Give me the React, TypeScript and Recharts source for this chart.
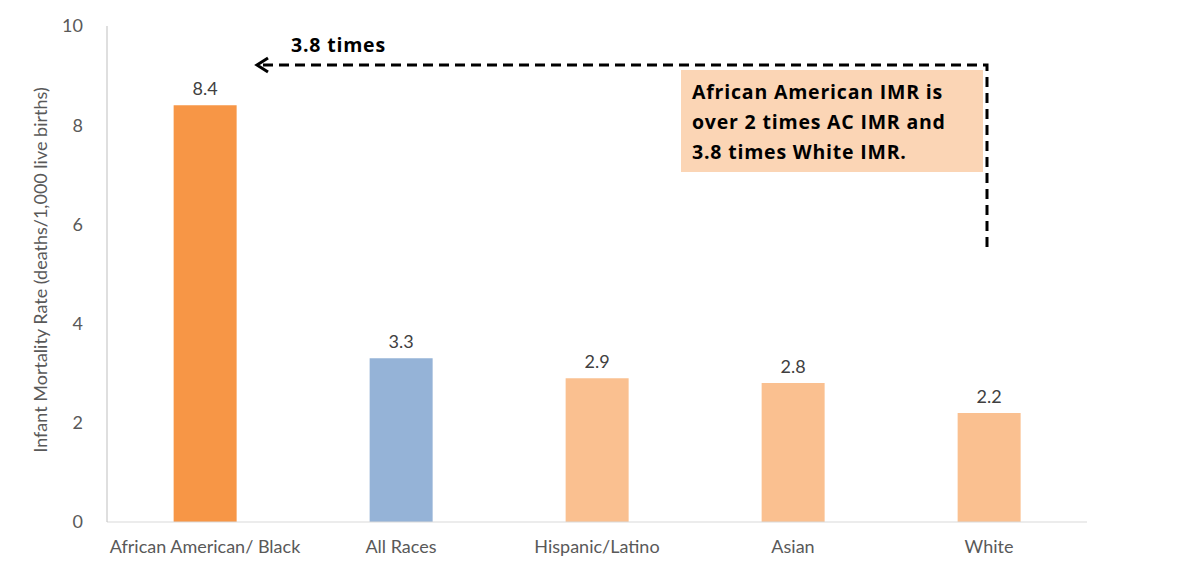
import { BarChart, Bar, XAxis, YAxis, Cell, LabelList } from 'recharts';

const categories = ['African American/ Black', 'All Races', 'Hispanic/Latino', 'Asian', 'White'];
const rates = [8.4, 3.3, 2.9, 2.8, 2.2];
const barColors = ['#F79646', '#95B3D7', '#FAC090', '#FAC090', '#FAC090'];
const yTicks = [0, 2, 4, 6, 8, 10];

const data = categories.map((name, i) => ({ name, rate: rates[i], fill: barColors[i] }));

const FONT = 'Lato, "Noto Sans", sans-serif';
const BOLD_FONT = '"Open Sans", "Noto Sans", sans-serif';
const GREY = '#595959';

function YLabel() {
  return (
    <text
      x={40}
      y={270}
      transform="rotate(-90 40 270)"
      textAnchor="middle"
      dominantBaseline="central"
      fill={GREY}
      fontSize={18}
      fontFamily={FONT}
    >
      Infant Mortality Rate (deaths/1,000 live births)
    </text>
  );
}

export default function App() {
  return (
    <div style={{ position: 'absolute', left: 0, top: 0, width: 1193, height: 564, background: '#fff', fontFamily: FONT }}>
      <BarChart
        width={1193}
        height={564}
        data={data}
        margin={{ top: 26, right: 106, bottom: 0, left: 0 }}
        barCategoryGap="34%"
      >
        <XAxis
          dataKey="name"
          height={42}
          tickLine={false}
          axisLine={{ stroke: '#D9D9D9' }}
          tick={{ fill: GREY, fontSize: 18, fontFamily: FONT }}
          tickMargin={12}
          interval={0}
        />
        <YAxis
          width={107}
          domain={[0, 10]}
          ticks={yTicks}
          tickLine={false}
          axisLine={{ stroke: '#BFBFBF' }}
          tick={{ fill: GREY, fontSize: 18, fontFamily: FONT }}
          tickMargin={18}
          label={<YLabel />}
        />
        <Bar dataKey="rate" isAnimationActive={false}>
          {data.map((d, i) => (
            <Cell key={i} fill={d.fill} />
          ))}
          <LabelList dataKey="rate" position="top" offset={10} fill="#404040" fontSize={18} fontFamily={FONT} />
        </Bar>
      </BarChart>
      <svg width={1193} height={564} style={{ position: 'absolute', left: 0, top: 0, pointerEvents: 'none' }}>
        <rect x={681} y={70} width={302} height={102} fill="#FBD5B5" />
        <text fontFamily={BOLD_FONT} fontWeight="bold" fontSize={19.5} letterSpacing={0.8} fill="#000">
          <tspan x={692} y={99}>African American IMR is</tspan>
          <tspan x={692} y={129}>over 2 times AC IMR and</tspan>
          <tspan x={692} y={159}>3.8 times White IMR.</tspan>
        </text>
        <text x={291} y={52} fontFamily={BOLD_FONT} fontWeight="bold" fontSize={19.5} letterSpacing={0.8} fill="#000">
          3.8 times
        </text>
        <path d="M987 247 L987 65 L262 65" fill="none" stroke="#000" strokeWidth={3} strokeDasharray="10 6" />
        <path d="M268 58 L257 65 L268 72" fill="none" stroke="#000" strokeWidth={3} />
      </svg>
    </div>
  );
}
